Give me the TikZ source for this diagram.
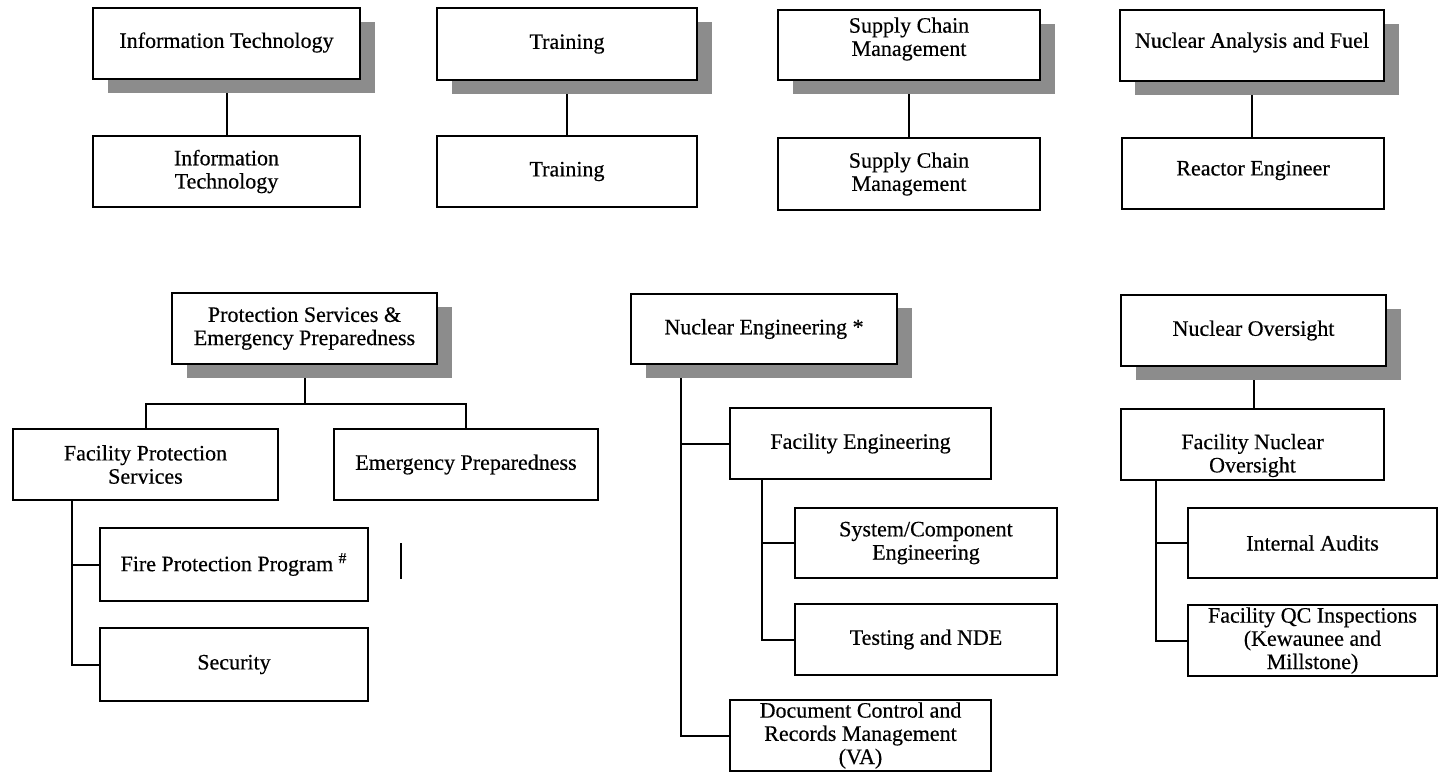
\documentclass[tikz,border=0pt]{standalone}
\usepackage{fontspec}
\setmainfont{Liberation Serif}[FakeBold=0.4]
\usetikzlibrary{shadows,backgrounds,calc}
\tikzset{
  bx/.style 2 args={draw, line width=1pt, fill=white, inner sep=0pt, align=center,
    minimum width=#1*0.5pt, minimum height=#2*0.5pt,
    font=\fontsize{11pt}{11.6pt}\selectfont},
  sh/.style={drop shadow={shadow xshift=7.5pt, shadow yshift=-7pt, fill=black!45, opacity=1}},
  txt/.style={inner sep=0pt, align=center, font=\fontsize{11pt}{11.6pt}\selectfont},
  ln/.style={line width=1pt}}
\begin{document}
\begin{tikzpicture}[x=0.5pt,y=-0.5pt]
\useasboundingbox (0,0) rectangle (1439,773);

% top row
\node[bx={267}{71},sh] (it1) at (226.5,43.5) {};
\node[txt] (it1t) at ([yshift=0.5pt]it1.center) {Information Technology};
\node[bx={260}{72},sh] (tr1) at (567,44) {Training};
\node[bx={262}{70},sh] (sc1) at (909,45) {};
\node[txt] (sc1t) at ([yshift=3pt]sc1.center) {Supply Chain\\Management};
\node[bx={264}{71},sh] (naf) at (1252,45.5) {};
\node[txt] (naft) at ([yshift=1.5pt]naf.center) {Nuclear Analysis and Fuel};

% second row
\node[bx={267}{71}] (it2) at (226.5,171.5) {Information\\Technology};
\node[bx={260}{71}] (tr2) at (567,171.5) {Training};
\node[bx={262}{72}] (sc2) at (909,174) {Supply Chain\\Management};
\node[bx={262}{71}] (re) at (1253,173.5) {};
\node[txt] (ret) at ([yshift=1.5pt]re.center) {Reactor Engineer};

% protection services
\node[bx={265}{71},sh] (ps) at (304.5,328.5) {Protection Services \&\\Emergency Preparedness};
\node[bx={265}{71}] (fps) at (145.5,464.5) {Facility Protection\\Services};
\node[bx={264}{71}] (ep) at (466,464.5) {Emergency Preparedness};
\node[bx={268}{73}] (fire) at (234,564.5) {Fire Protection Program \textsuperscript{\#}};
\node[bx={268}{73}] (sec) at (234,664.5) {Security};

% nuclear engineering
\node[bx={266}{70},sh] (ne) at (764,329) {Nuclear Engineering *};
\node[bx={261}{71}] (fe) at (860.5,443.5) {Facility Engineering};
\node[bx={262}{70}] (scomp) at (926,543) {System/Component\\Engineering};
\node[bx={262}{71}] (tn) at (926,639.5) {Testing and NDE};
\node[bx={261}{71}] (dc) at (860.5,735.5) {Document Control and\\Records Management\\(VA)};

% nuclear oversight
\node[bx={265}{71},sh] (no) at (1253.5,330.5) {Nuclear Oversight};
\node[bx={263}{71}] (fno) at (1252.5,444.5) {};
\node[txt] (fnot) at ([yshift=-5.5pt]fno.center) {Facility Nuclear\\Oversight};
\node[bx={249}{70}] (ia) at (1312.5,543) {Internal Audits};
\node[bx={249}{71}] (qc) at (1312.5,640.5) {Facility QC Inspections\\(Kewaunee and\\Millstone)};

\coordinate (bar1) at (401,543);
\coordinate (bar2) at (401,579);

\begin{pgfonlayer}{background}
\draw[ln] (it1.south) -- (it2.north);
\draw[ln] (tr1.south) -- (tr2.north);
\draw[ln] (sc1.south) -- (sc2.north);
\draw[ln] (naf.south) -- (naf.south |- re.north);

\coordinate (psj) at ($(ps.south)+(0,39)$);
\draw[ln] (ps.south) -- (psj);
\draw[ln] (fps.north) |- (psj) -| (ep.north);
\coordinate (fpsd) at ($(fps.south west)+(60,0)$);
\draw[ln] (fpsd) |- (sec.west);
\draw[ln] (fpsd |- fire.west) -- (fire.west);

\coordinate (ned) at ($(ne.south west)+(51,0)$);
\draw[ln] (ned) |- (dc.west);
\draw[ln] (ned |- fe.west) -- (fe.west);
\coordinate (fed) at ($(fe.south west)+(33,0)$);
\draw[ln] (fed) |- (tn.west);
\draw[ln] (fed |- scomp.west) -- (scomp.west);

\draw[ln] (no.south) -- (no.south |- fno.north);
\coordinate (fnod) at ($(fno.south west)+(36,0)$);
\draw[ln] (fnod) |- (qc.west);
\draw[ln] (fnod |- ia.west) -- (ia.west);
\end{pgfonlayer}

\draw[ln] (bar1) -- (bar2);
\end{tikzpicture}
\end{document}
